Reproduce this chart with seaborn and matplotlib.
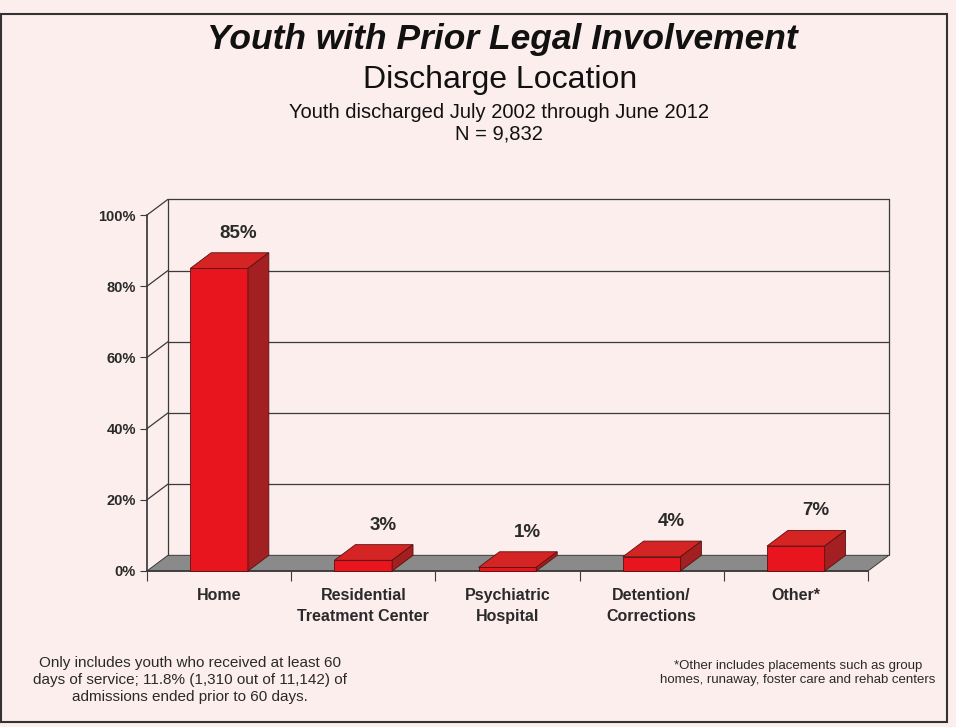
import matplotlib
matplotlib.use("Agg")
import matplotlib.pyplot as plt
import seaborn as sns
from matplotlib.patches import Polygon, Rectangle

categories = ["Home", "Residential\nTreatment Center", "Psychiatric\nHospital",
              "Detention/\nCorrections", "Other*"]
values = [85, 3, 1, 4, 7]
value_labels = ["85%", "3%", "1%", "4%", "7%"]
y_ticks = [0, 20, 40, 60, 80, 100]
y_tick_labels = ["0%", "20%", "40%", "60%", "80%", "100%"]

BG = "#fbeeec"
RED_FRONT = "#e8141e"
RED_TOP = "#d42424"
RED_SIDE = "#a21f22"
FLOOR = "#8a8a8a"
LINE = "#3a3a3a"
TEXT = "#2a2a2a"

W, H = 956, 727
DX, DY = 0.145, 4.4  # depth of the pseudo-3d effect in data units

sns.set_theme(style="white")
plt.rcParams["font.family"] = ["Liberation Sans", "DejaVu Sans"]

fig = plt.figure(figsize=(W / 100, H / 100), dpi=100, facecolor=BG)
ax = fig.add_axes([147 / W, 0.1999, 744 / W, 0.5337])
ax.set_facecolor(BG)

sns.barplot(x=categories, y=values, color=RED_FRONT, width=0.4, saturation=1,
            edgecolor="#5a1010", linewidth=0.6, ax=ax, zorder=3)
ax.set_xlim(-0.5, 4.5 + DX + 0.015)
ax.set_ylim(-3, 106)

# back wall, left wall and floor
x0, x1 = -0.5, len(categories) - 0.5
ax.add_patch(Polygon([(x0, 0), (x1, 0), (x1 + DX, DY), (x0 + DX, DY)],
                     closed=True, facecolor=FLOOR, edgecolor=LINE, lw=0.7, zorder=1))
for v in y_ticks[1:]:
    ax.plot([x0 + DX, x1 + DX], [v + DY, v + DY], color=LINE, lw=0.9, zorder=0)
    ax.plot([x0, x0 + DX], [v, v + DY], color=LINE, lw=0.9, zorder=0)
ax.plot([x0 + DX, x0 + DX], [DY, 100 + DY], color=LINE, lw=0.9, zorder=0)
ax.plot([x1 + DX, x1 + DX], [DY, 100 + DY], color=LINE, lw=0.9, zorder=0)

# top and side faces of each bar, plus its label
for patch, lab in zip(ax.patches[:len(values)], value_labels):
    bx, bw, bh = patch.get_x(), patch.get_width(), patch.get_height()
    ax.add_patch(Polygon([(bx, bh), (bx + bw, bh), (bx + bw + DX, bh + DY), (bx + DX, bh + DY)],
                         closed=True, facecolor=RED_TOP, edgecolor="#5a1010", lw=0.6, zorder=3))
    ax.add_patch(Polygon([(bx + bw, 0), (bx + bw, bh), (bx + bw + DX, bh + DY), (bx + bw + DX, DY)],
                         closed=True, facecolor=RED_SIDE, edgecolor="#5a1010", lw=0.6, zorder=3))
    ax.annotate(lab, (bx + bw / 2 + DX, bh + DY), xytext=(-1, 14), textcoords="offset points",
                ha="center", va="center", fontsize=13.5, fontweight="bold", color=TEXT)

for side in ["top", "right"]:
    ax.spines[side].set_visible(False)
ax.spines["left"].set_bounds(0, 100)
ax.spines["bottom"].set_bounds(x0, x1)
ax.spines["left"].set_color(LINE)
ax.spines["bottom"].set_color(LINE)
ax.spines["bottom"].set_position(("data", 0))
ax.spines["bottom"].set_zorder(2)

ax.set_yticks(y_ticks, y_tick_labels)
ax.tick_params(axis="y", left=True, length=5, width=0.8, color=LINE, pad=3,
               labelsize=10.5, labelcolor=TEXT)
for t in ax.get_yticklabels():
    t.set_fontweight("bold")
ax.set_xticks(range(len(categories)), categories)
ax.set_xticks([i + 0.5 for i in range(-1, len(categories))], minor=True)
ax.tick_params(axis="x", which="major", bottom=False, pad=6, labelsize=11.5, labelcolor=TEXT)
ax.tick_params(axis="x", which="minor", bottom=True, length=7, width=0.8, color=LINE)
for t in ax.get_xticklabels():
    t.set_fontweight("bold")
    t.set_linespacing(1.55)
ax.set_xlabel("")
ax.set_ylabel("")


def fx(px):
    return px / W


def fy(py):
    return 1 - py / H


fig.text(fx(502), fy(40), "Youth with Prior Legal Involvement", ha="center", va="center",
         fontsize=25.5, fontweight="bold", fontstyle="italic", color="#111111")
fig.text(fx(500), fy(80), "Discharge Location", ha="center", va="center",
         fontsize=23, color="#111111")
fig.text(fx(499), fy(112), "Youth discharged July 2002 through June 2012", ha="center",
         va="center", fontsize=14.5, color="#111111")
fig.text(fx(499), fy(134), "N = 9,832", ha="center", va="center", fontsize=14.5, color="#111111")

fig.text(fx(190), fy(680),
         "Only includes youth who received at least 60\ndays of service; 11.8% (1,310 out of 11,142) of\nadmissions ended prior to 60 days.",
         ha="center", va="center", fontsize=11, color=TEXT, linespacing=1.3)
fig.text(fx(798), fy(673),
         "*Other includes placements such as group\nhomes, runaway, foster care and rehab centers",
         ha="center", va="center", fontsize=9.5, color=TEXT, linespacing=1.3)

fig.patches.append(Rectangle((fx(1), fy(722)), fx(946), fy(14) - fy(722), transform=fig.transFigure,
                             fill=False, edgecolor="#333333", lw=1.5))

fig.savefig("out.png", dpi=100, facecolor=BG)
